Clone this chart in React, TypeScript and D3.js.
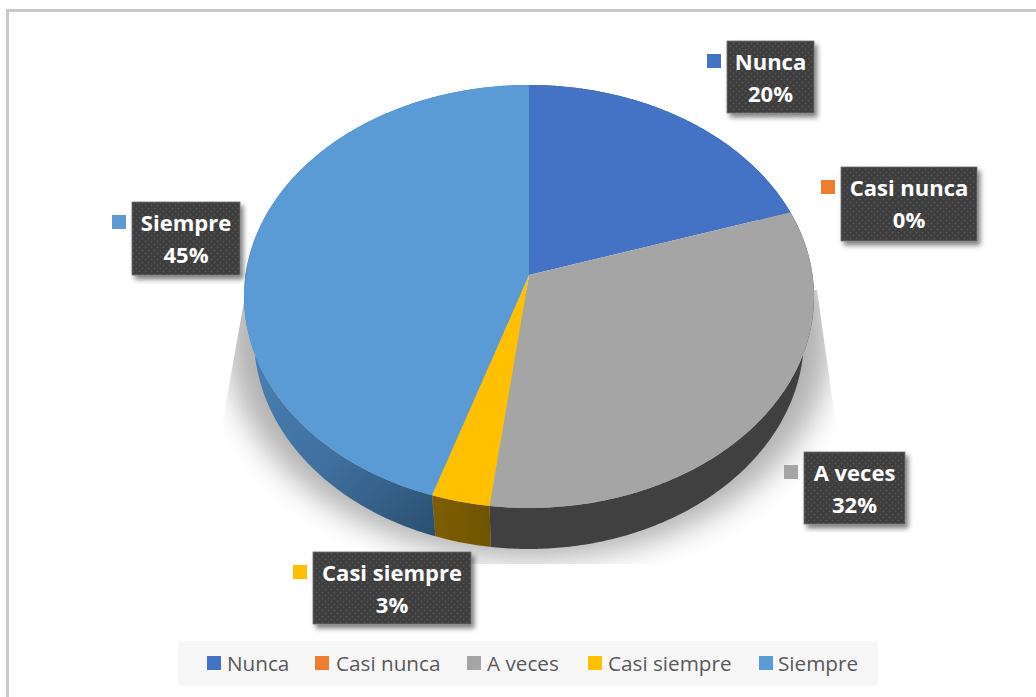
import React, { useMemo } from "react";
import * as d3 from "d3";

// Survey answers, in slice order, as whole percentages.
const categories = ["Nunca", "Casi nunca", "A veces", "Casi siempre", "Siempre"];
const percentages = [20, 0, 32, 3, 45];
const topColors = ["#4472C4", "#ED7D31", "#A5A5A5", "#FFC000", "#5B9BD5"];
const wallFills = ["#2F5597", "#AE5A21", "#404040", "url(#wallGold)", "url(#wallBlue)"];

// Callout placement for each slice: box left, top, right, bottom.
const calloutBoxes = [
  [727, 41, 814, 113],
  [841, 167, 977, 241],
  [804, 452, 905, 524],
  [313, 552, 471, 624],
  [132, 202, 240, 275],
];
const legendKeyX = [207, 315, 467, 588, 759];
const legendTextX = [227, 336, 487, 608, 778];

const WIDTH = 1036;
const HEIGHT = 697;
const FONT = "'Open Sans', sans-serif";

// Tilted disc: the apex sits above the rim's centre because the near edge is
// closer to the camera.
const APEX_X = 529;
const APEX_Y = 275;
const SPREAD_X = 283.5;
const SPREAD_Y = 209.3;
const TILT = 0.1016;
const WALL_SCALE_X = 0.965;
const WALL_APEX_Y = 316;

type Pt = [number, number];

function rimPoint(angle: number, lower: boolean): Pt {
  const u = Math.sin(angle);
  const v = -Math.cos(angle);
  const w = 1 - TILT * v;
  const x = (SPREAD_X * u) / w;
  const y = (SPREAD_Y * v) / w;
  return lower
    ? [APEX_X + x * WALL_SCALE_X, WALL_APEX_Y + y]
    : [APEX_X + x, APEX_Y + y];
}

function rimRun(a0: number, a1: number, lower: boolean): Pt[] {
  const n = Math.max(2, Math.ceil(Math.abs(a1 - a0) / 0.01));
  return d3.range(n + 1).map((i) => rimPoint(a0 + ((a1 - a0) * i) / n, lower));
}

export default function App() {
  const line = useMemo(() => d3.line<Pt>().curve(d3.curveLinear), []);
  const arcs = useMemo(
    () => d3.pie<number>().sort(null).startAngle(0).endAngle(2 * Math.PI)(percentages),
    []
  );
  const lowerRim = rimRun(0, 2 * Math.PI, true);

  return (
    <svg
      width={WIDTH}
      height={HEIGHT}
      viewBox={`0 0 ${WIDTH} ${HEIGHT}`}
      style={{ position: "absolute", left: 0, top: 0, display: "block" }}
    >
      <defs>
        <filter id="discShadow" x="-20%" y="-20%" width="140%" height="140%">
          <feGaussianBlur stdDeviation="14" />
        </filter>
        <filter id="boxShadow" x="-20%" y="-20%" width="150%" height="150%">
          <feDropShadow dx="3" dy="4" stdDeviation="2.5" floodColor="#000" floodOpacity="0.5" />
        </filter>
        <clipPath id="shadowClip">
          <path d="M246,290L222,425L222,564L836,564L836,425L817,290Z" />
        </clipPath>
        <pattern id="dots" width="6" height="6" patternUnits="userSpaceOnUse">
          <rect width="6" height="6" fill="#3E3E3E" />
          <circle cx="1.5" cy="1.5" r="1" fill="#525252" />
          <circle cx="4.5" cy="4.5" r="1" fill="#525252" />
        </pattern>
        <linearGradient id="wallBlue" gradientUnits="userSpaceOnUse" x1="245" y1="340" x2="433" y2="530">
          <stop offset="0" stopColor="#4A82B6" />
          <stop offset="0.55" stopColor="#3F6F9E" />
          <stop offset="1" stopColor="#2B5172" />
        </linearGradient>
        <linearGradient id="wallGold" gradientUnits="userSpaceOnUse" x1="433" y1="0" x2="491" y2="0">
          <stop offset="0" stopColor="#7F5E00" />
          <stop offset="1" stopColor="#6E5400" />
        </linearGradient>
      </defs>

      <rect width={WIDTH} height={HEIGHT} fill="#FFFFFF" />
      <path d="M7.5,697V10.5H1036" fill="none" stroke="#C9C9C9" strokeWidth="3" />

      {/* cast shadow under the disc */}
      <g clipPath="url(#shadowClip)">
        <path
          d={line(lowerRim) + "Z"}
          transform={`translate(${APEX_X} 345) scale(1.1 1.05) translate(${-APEX_X} -345)`}
          fill="#000"
          opacity="0.3"
          filter="url(#discShadow)"
        />
      </g>

      {/* outer wall, one band per slice */}
      {arcs.map((a, i) => (
        <path
          key={`wall-${i}`}
          d={line([...rimRun(a.startAngle, a.endAngle, false), ...rimRun(a.endAngle, a.startAngle, true)]) + "Z"}
          fill={wallFills[i]}
        />
      ))}

      {/* top face */}
      {arcs.map((a, i) => (
        <path
          key={`top-${i}`}
          d={line([[APEX_X, APEX_Y], ...rimRun(a.startAngle, a.endAngle, false)]) + "Z"}
          fill={topColors[i]}
        />
      ))}

      {/* callouts */}
      {categories.map((name, i) => {
        const [x0, y0, x1, y1] = calloutBoxes[i];
        const cx = (x0 + x1) / 2;
        return (
          <g key={`callout-${i}`}>
            <rect x={x0 - 20} y={y0 + 13} width={14} height={14} fill={topColors[i]} />
            <rect
              x={x0}
              y={y0}
              width={x1 - x0}
              height={y1 - y0}
              fill="url(#dots)"
              stroke="#6F6F6F"
              strokeWidth="0.8"
              filter="url(#boxShadow)"
            />
            <text
              x={cx}
              y={y0 + 29}
              textAnchor="middle"
              fontFamily={FONT}
              fontWeight={700}
              fontSize={22}
              fill="#FFFFFF"
            >
              {name}
            </text>
            <text
              x={cx}
              y={y0 + 61}
              textAnchor="middle"
              fontFamily={FONT}
              fontWeight={700}
              fontSize={22}
              fill="#FFFFFF"
            >
              {`${percentages[i]}%`}
            </text>
          </g>
        );
      })}

      {/* legend */}
      <rect x={178} y={641} width={700} height={45} fill="#F7F7F7" />
      {categories.map((name, i) => (
        <g key={`legend-${i}`}>
          <rect x={legendKeyX[i]} y={656} width={14} height={14} fill={topColors[i]} />
          <text x={legendTextX[i]} y={671} fontFamily={FONT} fontSize={20.7} fill="#595959">
            {name}
          </text>
        </g>
      ))}
    </svg>
  );
}
